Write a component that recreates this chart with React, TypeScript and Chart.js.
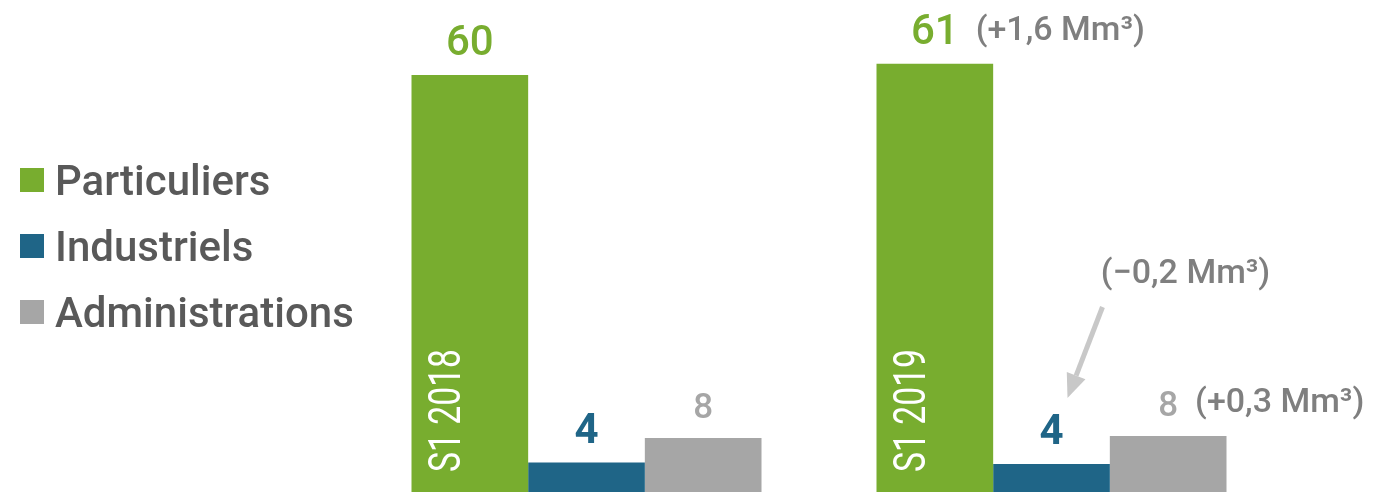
import { useEffect, useRef } from 'react';
import { Chart, registerables } from 'chart.js';

Chart.register(...registerables);

const FONT = 'Roboto, "Liberation Sans", Arial, sans-serif';

const categories = ['S1 2018', 'S1 2019'];
const seriesNames = ['Particuliers', 'Industriels', 'Administrations'];
const particuliers = [59.6, 61.2];
const industriels = [4.2, 4.0];
const administrations = [7.7, 8.0];
const changes2019 = ['(+1,6 Mm³)', '(−0,2 Mm³)', '(+0,3 Mm³)'];

const COLORS = ['#78AD2F', '#1F6587', '#A6A6A6'];
const LABEL_FONTS = [`500 42px ${FONT}`, `700 42px ${FONT}`, `500 35px ${FONT}`];
const NOTE_COLOR = '#7F7F7F';
const LEGEND_COLOR = '#595959';

const overlay = {
  id: 'overlay',
  afterDatasetsDraw(chart: any) {
    const ctx = chart.ctx as CanvasRenderingContext2D;
    ctx.save();

    // Legend
    const n = chart.data.datasets.length;
    const cy = chart.height / 2;
    chart.data.datasets.forEach((ds: any, i: number) => {
      const y = cy + (i - (n - 1) / 2) * 66;
      ctx.fillStyle = ds.backgroundColor;
      ctx.fillRect(20, y - 12, 24, 24);
      ctx.fillStyle = LEGEND_COLOR;
      ctx.font = `500 42px ${FONT}`;
      ctx.textAlign = 'left';
      ctx.textBaseline = 'alphabetic';
      ctx.fillText(ds.label, 55, y + 15);
    });

    // Category labels inside the first bar of each group (rotated)
    const meta0 = chart.getDatasetMeta(0);
    chart.data.labels.forEach((lab: string, j: number) => {
      const bar: any = meta0.data[j];
      const left = bar.x - bar.width / 2;
      ctx.save();
      ctx.translate(left + 49, bar.base - 20);
      ctx.rotate(-Math.PI / 2);
      ctx.font = `400 45px ${FONT}`;
      const w = ctx.measureText(lab).width;
      ctx.scale(123 / w, 1);
      ctx.fillStyle = '#FFFFFF';
      ctx.textAlign = 'left';
      ctx.textBaseline = 'alphabetic';
      ctx.fillText(lab, 0, 0);
      ctx.restore();
    });

    // Value labels and change notes
    chart.data.datasets.forEach((ds: any, i: number) => {
      const meta = chart.getDatasetMeta(i);
      ds.data.forEach((v: number, j: number) => {
        const bar: any = meta.data[j];
        const txt = v.toFixed(0);
        ctx.font = LABEL_FONTS[i];
        ctx.fillStyle = COLORS[i];
        ctx.textAlign = 'center';
        ctx.textBaseline = 'alphabetic';
        const baseY = bar.y - 20;
        ctx.fillText(txt, bar.x, baseY);
        const tw = ctx.measureText(txt).width;
        if (j === 1) {
          const note = changes2019[i];
          ctx.font = `500 34px ${FONT}`;
          ctx.fillStyle = NOTE_COLOR;
          if (i === 1) {
            ctx.textAlign = 'center';
            ctx.fillText(note, bar.x + 134, bar.y - 181);
            // arrow
            const tx = bar.x + 51, ty = bar.y - 157;
            const hx = bar.x + 16, hy = bar.y - 66;
            const dx = hx - tx, dy = hy - ty;
            const len = Math.hypot(dx, dy);
            const ux = dx / len, uy = dy / len;
            const bx = hx - ux * 24, by = hy - uy * 24;
            ctx.strokeStyle = '#C8C8C8';
            ctx.fillStyle = '#C8C8C8';
            ctx.lineWidth = 5;
            ctx.beginPath();
            ctx.moveTo(tx, ty);
            ctx.lineTo(bx, by);
            ctx.stroke();
            ctx.beginPath();
            ctx.moveTo(hx, hy);
            ctx.lineTo(bx - uy * 10, by + ux * 10);
            ctx.lineTo(bx + uy * 10, by - ux * 10);
            ctx.closePath();
            ctx.fill();
          } else {
            ctx.textAlign = 'left';
            ctx.fillText(note, bar.x + tw / 2 + 17, baseY - 4);
          }
        }
      });
    });

    ctx.restore();
  },
};

export default function App() {
  const ref = useRef<HTMLCanvasElement>(null);
  useEffect(() => {
    document.body.style.margin = '0';
    const chart = new Chart(ref.current as HTMLCanvasElement, {
      type: 'bar',
      data: {
        labels: categories,
        datasets: [
          { label: seriesNames[0], data: particuliers, backgroundColor: COLORS[0] },
          { label: seriesNames[1], data: industriels, backgroundColor: COLORS[1] },
          { label: seriesNames[2], data: administrations, backgroundColor: COLORS[2] },
        ],
      },
      options: {
        animation: false,
        responsive: false,
        devicePixelRatio: 1,
        layout: { padding: { left: 354, right: 110, top: 0, bottom: 0 } },
        datasets: { bar: { barPercentage: 1, categoryPercentage: 0.7527, borderWidth: 0 } },
        scales: {
          x: { display: false },
          y: { display: false, min: 0, max: 70.3 },
        },
        plugins: { legend: { display: false }, tooltip: { enabled: false } },
      },
      plugins: [overlay],
    } as any);
    return () => chart.destroy();
  }, []);
  return (
    <div style={{ width: 1394, height: 492 }}>
      <canvas ref={ref} width={1394} height={492} />
    </div>
  );
}
